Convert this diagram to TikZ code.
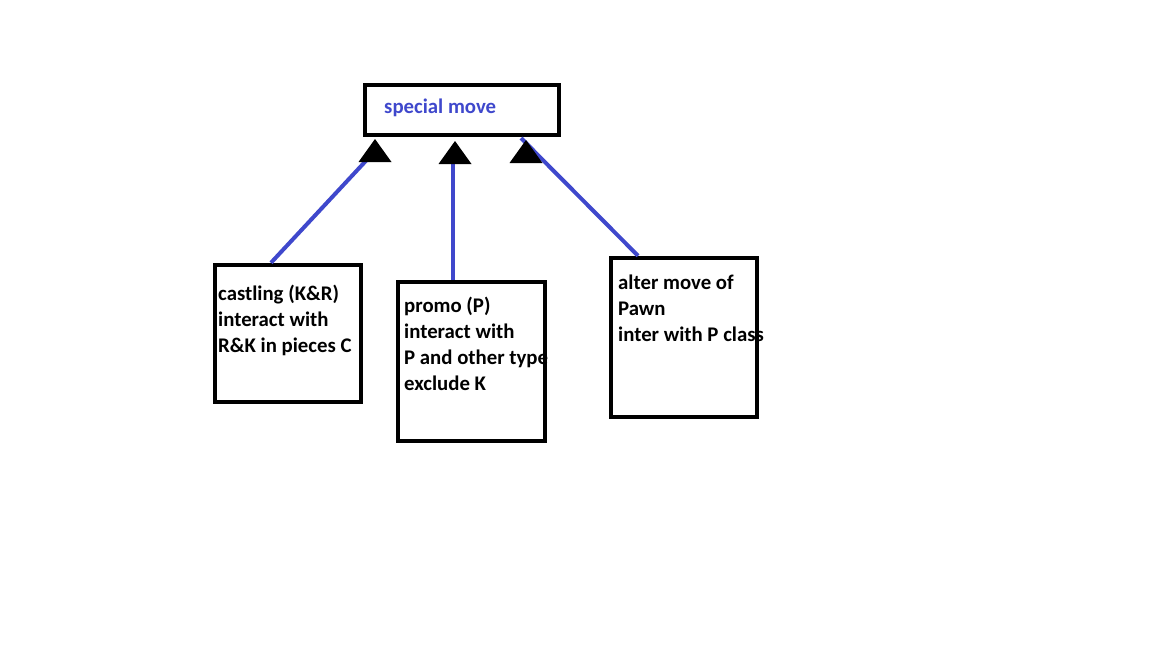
\documentclass[tikz,border=0pt]{standalone}
\usepackage{fontspec}
\setmainfont{Carlito}
\usepackage{tikz}
\usetikzlibrary{positioning}
\definecolor{paintblue}{HTML}{3F48CC}
\tikzstyle{classbox} = [draw=black, line width=4.5pt, rectangle, inner sep=0pt]
\tikzstyle{boxtext} = [anchor=north west, inner sep=0pt, align=left, font=\fontsize{20.8}{26}\selectfont\bfseries]
\tikzstyle{link} = [draw=paintblue, line width=4pt]

\begin{document}
\begin{tikzpicture}[x=1pt, y=-1pt]
\useasboundingbox (0,0) rectangle (1152,648);
% boxes
\node [classbox, minimum width=194pt, minimum height=50pt] (special) at (462,110) {};
\node [classbox, minimum width=146pt, minimum height=137pt] (castle) at (288,333.5) {};
\node [classbox, minimum width=147pt, minimum height=159pt] (promo) at (471.5,361.5) {};
\node [classbox, minimum width=146pt, minimum height=159pt] (alter) at (684,337.5) {};
% texts
\node [boxtext, text=paintblue] (specialtext) at (384,99) {special move};
\node [boxtext] (castletext) at (218,285) {castling (K\&R)\\interact with\\R\&K in pieces C};
\node [boxtext] (promotext) at (404,297) {promo (P)\\interact with\\P and other type\\exclude K};
\node [boxtext] (altertext) at (618,275) {alter move of\\Pawn\\inter with P class};
% arrow ends
\coordinate (tipL) at (375,139);
\coordinate (tipM) at (455,141);
\coordinate (tipR) at (526,140);
\coordinate (endL) at (376,150);
\coordinate (endM) at (453,152);
\coordinate (endR) at (521,138);
% connectors
\draw [link] ([xshift=-17pt]castle.north) -- (endL);
\draw [link] ([xshift=-18.5pt]promo.north) -- (endM);
\draw [link] ([xshift=-46pt]alter.north) -- (endR);
% heads
\foreach \t in {tipL, tipM, tipR}
  \fill [black] (\t) -- ++(-16.5,23) -- ++(33,0) -- cycle;
\end{tikzpicture}
\end{document}
